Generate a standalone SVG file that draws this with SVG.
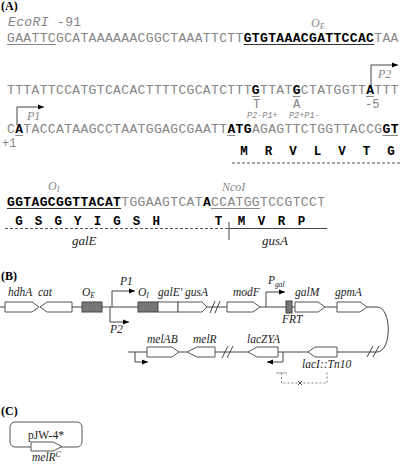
<svg xmlns="http://www.w3.org/2000/svg" width="400" height="464" viewBox="0 0 400 464">
<defs>
<style>
.seq{font-family:"Liberation Mono",monospace;font-size:13px;letter-spacing:0.36px;fill:#858585}
.b{font-weight:bold;fill:#000}
.aa{font-family:"Liberation Mono",monospace;font-size:12.5px;font-weight:bold;fill:#000;text-anchor:middle}
.mono{font-family:"Liberation Mono",monospace;font-size:12px;fill:#858585}
.mi{font-family:"Liberation Mono",monospace;font-style:italic;fill:#858585}
.lab{font-family:"Liberation Serif",serif;font-style:italic;font-size:11.5px;fill:#222}
.glab{font-family:"Liberation Serif",serif;font-style:italic;font-size:12px;fill:#888}
.big{font-family:"Liberation Serif",serif;font-style:italic;font-size:13px;fill:#222}
.panel{font-family:"Liberation Serif",serif;font-weight:bold;font-size:12px;fill:#000}
.ul{stroke:#888;stroke-width:1}
.ulb{stroke:#333;stroke-width:1.2}
.ln{stroke:#444;stroke-width:1;fill:none}
.gene{fill:#fff;stroke:#555;stroke-width:1}
.op{fill:#777;stroke:#444;stroke-width:1}
.dash{stroke:#555;stroke-width:1;stroke-dasharray:3 2;fill:none}
.dg{stroke:#888;stroke-width:1;stroke-dasharray:2 2;fill:none}
</style>
<marker id="ah" viewBox="0 0 10 10" refX="10" refY="5" markerWidth="6" markerHeight="6" markerUnits="userSpaceOnUse" orient="auto"><path d="M0,1 L10,5 L0,9 Z" fill="#000"/></marker>
</defs>

<!-- Panel A -->
<g id="panelA">
<text class="panel" x="1" y="9.5">(A)</text>
<text class="mi" x="8" y="26" font-size="13" letter-spacing="0.36">EcoRI<tspan font-style="normal"> -91</tspan></text>
<text class="glab" x="311" y="27">O<tspan font-size="8" dy="2">E</tspan></text>

<text class="seq" x="7" y="42">GAATTCGCATAAAAAACGGCTAAATTCTT<tspan class="b">GTGTAAACGATTCCAC</tspan>TAA</text>
<line class="ul" x1="7" y1="44.5" x2="56" y2="44.5"/>
<line class="ulb" x1="243.6" y1="44.5" x2="374.2" y2="44.5"/>

<g id="promP2A"><path class="ln" d="M371,85 V65 H398" marker-end="url(#ah)"/>
<text class="glab" x="378" y="78">P2</text></g>

<text class="seq" x="7" y="94">TTTATTCCATGTCACACTTTTCGCATCTTT<tspan class="b">G</tspan>TTAT<tspan class="b">G</tspan>CTATGGTT<tspan class="b">A</tspan>TTT</text>
<line class="ul" x1="252" y1="96.5" x2="259.5" y2="96.5"/>
<line class="ul" x1="292.8" y1="96.5" x2="300.3" y2="96.5"/>
<line class="ul" x1="366" y1="96.5" x2="374" y2="96.5"/>
<text class="mono" x="253" y="107.5">T</text>
<text class="mono" x="293" y="107.5">A</text>
<text class="mono" x="365" y="108">-5</text>
<text class="mi" x="247" y="117.5" font-size="8.5">P2-P1+</text>
<text class="mi" x="289" y="117.5" font-size="8.5">P2+P1-</text>

<g id="promP1A"><path class="ln" d="M17,125 V107 H44" marker-end="url(#ah)"/>
<text class="glab" x="27" y="120">P1</text></g>

<text class="seq" x="7" y="133">C<tspan class="b">A</tspan>TACCATAAGCCTAATGGAGCGAATT<tspan class="b">ATG</tspan>AGAGTTCTGGTTACCG<tspan class="b">GT</tspan></text>
<line class="ul" x1="15.2" y1="135.5" x2="23" y2="135.5"/>
<line class="ul" x1="227.3" y1="135.5" x2="235" y2="135.5"/>
<line class="ul" x1="382.4" y1="135.5" x2="398" y2="135.5"/>
<text class="mono" x="2" y="147">+1</text>

<g id="aa1">
<text class="aa" x="244" y="155">M</text><text class="aa" x="268.5" y="155">R</text><text class="aa" x="293" y="155">V</text><text class="aa" x="317.5" y="155">L</text><text class="aa" x="342" y="155">V</text><text class="aa" x="366.5" y="155">T</text><text class="aa" x="391" y="155">G</text>
</g>
<line class="dash" x1="232" y1="163" x2="400" y2="163"/>

<text class="glab" x="48" y="190">O<tspan font-size="8" dy="2">I</tspan></text>
<text class="glab" x="222" y="191">NcoI</text>

<text class="seq" x="7" y="206"><tspan class="b">GGTAGCGGTTACAT</tspan>TGGAAGTCAT<tspan class="b">A</tspan>CCATGGTCCGTCCT</text>
<line class="ulb" x1="7" y1="208.5" x2="121" y2="208.5"/>
<line class="ul" x1="211" y1="208.5" x2="260" y2="208.5"/>

<g id="aa2">
<text class="aa" x="19" y="225">G</text><text class="aa" x="38.6" y="225">S</text><text class="aa" x="58.2" y="225">G</text><text class="aa" x="77.8" y="225">Y</text><text class="aa" x="97.4" y="225">I</text><text class="aa" x="117" y="225">G</text><text class="aa" x="136.6" y="225">S</text><text class="aa" x="156.2" y="225">H</text>
<text class="aa" x="218.5" y="225">T</text><text class="aa" x="241.5" y="225">M</text><text class="aa" x="261.5" y="225">V</text><text class="aa" x="281.5" y="225">R</text><text class="aa" x="301.5" y="225">P</text>
</g>
<line class="dash" x1="5" y1="228.5" x2="229" y2="228.5"/>
<line class="ln" x1="229" y1="222" x2="229" y2="240"/>
<line class="ln" x1="229" y1="228.5" x2="327" y2="228.5"/>
<text class="big" x="72" y="245">galE</text>
<text class="big" x="262" y="245">gusA</text>
</g>

<!-- Panel B -->
<text class="panel" x="1" y="280">(B)</text>

<g id="connectors">
<path class="ln" d="M0,307 H5 M72,307 H82 M102,307 H138 M207,307 H227 M260,307 H286 M292,307 H295 M325,307 H337 M367,307 H377 C392,307 392,352 377,352 H337 M308,352 H278 M248,352 H215 M187,352 H179 M128,352 H147"/>
<path class="ln" d="M210,313 L215,301 M215,313 L220,301"/>
<path class="ln" d="M222,358 L228,346 M227,358 L233,346"/>
<path class="ln" d="M367,357 L373,346 M373,357 L379,346"/>
<path class="ln" d="M112,307 V291 H135" marker-end="url(#ah)"/>
<path class="ln" d="M110,307 V322 H129" marker-end="url(#ah)"/>
<path class="ln" d="M266,307 V292 H285" marker-end="url(#ah)"/>
<path class="ln" d="M283,352 V362 H267" marker-end="url(#ah)"/>
<path class="ln" d="M135,352 V362 H148" marker-end="url(#ah)"/>
<path class="dg" d="M281.5,373 V383 H327 V371"/>
<line x1="276" y1="373" x2="287" y2="373" stroke="#999" stroke-width="1"/>
<path d="M298,381 L302,385 M302,381 L298,385" stroke="#555" stroke-width="1"/>
</g>

<g id="hdhA"><path class="gene" d="M5,302 H32 L39,307 L32,312 H5 Z"/><text class="lab" x="8" y="296">hdhA</text></g>
<g id="cat"><path class="gene" d="M72,302 H47 L40,307 L47,312 H72 Z"/><text class="lab" x="38" y="296">cat</text></g>
<g id="OE"><rect class="op" x="82" y="302" width="20" height="10"/><text class="lab" x="82" y="296">O<tspan font-size="7.5" dy="2">E</tspan></text></g>
<g id="P1"><text class="lab" x="120" y="285">P1</text></g>
<g id="P2"><text class="lab" x="110" y="333">P2</text></g>
<g id="OI"><rect class="op" x="138" y="302" width="20" height="10"/><text class="lab" x="138" y="296">O<tspan font-size="7.5" dy="2">I</tspan></text></g>
<g id="galE"><rect class="gene" x="158" y="302" width="20" height="10"/><text class="lab" x="158" y="296">galE' gusA</text></g>
<g id="gusA"><path class="gene" d="M178,302 H202 L207,307 L202,312 H178 Z"/></g>
<g id="modF"><path class="gene" d="M227,302 H253 L260,307 L253,312 H227 Z"/><text class="lab" x="233" y="296">modF</text></g>
<g id="Pgal"><text class="lab" x="268" y="284">P<tspan font-size="7.5" dy="3">gal</tspan></text></g>
<g id="FRT"><rect class="op" x="286" y="301" width="6" height="12"/><text class="lab" x="282" y="322.5">FRT</text></g>
<g id="galM"><path class="gene" d="M295,302 H318 L325,307 L318,312 H295 Z"/><text class="lab" x="295" y="296">galM</text></g>
<g id="gpmA"><path class="gene" d="M337,302 H360 L367,307 L360,312 H337 Z"/><text class="lab" x="335" y="296">gpmA</text></g>
<g id="lacI"><path class="gene" d="M337,347 H315 L308,352 L315,357 H337 Z"/><text class="lab" x="302" y="368">lacI::Tn10</text></g>
<g id="lacZYA"><path class="gene" d="M278,347 H257 L248,352 L257,357 H278 Z"/><text class="lab" x="247" y="343">lacZYA</text></g>
<g id="melR"><path class="gene" d="M215,347 H197 L187,352 L197,357 H215 Z"/><text class="lab" x="193" y="343">melR</text></g>
<g id="melAB"><path class="gene" d="M147,347 H172 L179,352 L172,357 H147 Z"/><text class="lab" x="147" y="343">melAB</text></g>

<!-- Panel C -->
<text class="panel" x="1" y="415">(C)</text>
<g id="pJW4">
<rect x="10" y="422" width="72" height="25" rx="5" fill="#fff" stroke="#555" stroke-width="1"/>
<text x="46" y="439" font-family="Liberation Serif, serif" font-size="11.5" fill="#222" text-anchor="middle">pJW-4*</text>
</g>
<g id="melRC"><path class="gene" d="M31,442 H53 L62,446.5 L53,451 H31 Z"/><text class="lab" x="32" y="461">melR<tspan font-size="7.5" dy="-4">C</tspan></text></g>
</svg>
